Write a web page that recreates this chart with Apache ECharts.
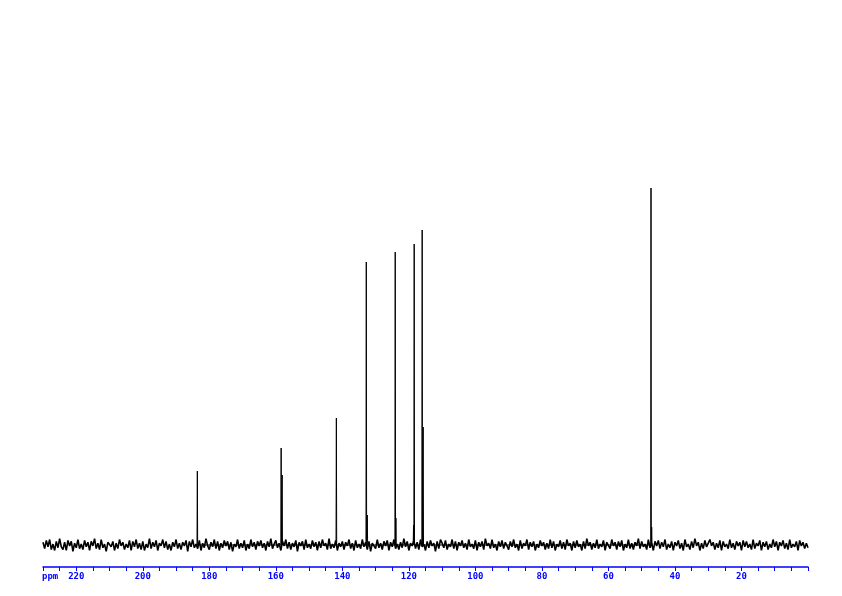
<!DOCTYPE html>
<html><head><meta charset="utf-8">
<script src="https://cdn.jsdelivr.net/npm/echarts@6/dist/echarts.min.js"></script>
<style>html,body{margin:0;padding:0;background:#fff}#c{width:842px;height:596px}</style>
</head><body><div id="c"></div>
<script>
// Peak positions (ppm) and heights (arbitrary intensity units)
const peakPpm    = [183.6, 158.4, 158.1, 141.8, 132.8, 132.5, 124.1, 123.9, 118.4, 118.6, 116.0, 115.7, 47.2, 47.0];
const peakHeight = [14.8,  19.4,  14.0,  25.4,  56.6,  6.0,   58.6,  5.4,   60.2,  4.0,   63.0,  23.6,  71.4, 3.6];
// Baseline noise, sampled every 0.5 ppm from 230 down to 0 (in 1/5.5 intensity units)
const noiseStart = 230, noiseStep = 0.5, noiseScale = 5.5;
const noise = [
3,-4,5,-2,6,-5,1,-6,4,-3,7,-2,-5,3,-6,5,-1,4,-7,2,
-3,6,-4,1,-5,5,-2,3,-6,4,-1,7,-4,2,-5,6,-3,1,-7,3,
5,-2,4,-6,2,-4,6,-1,3,-5,1,-3,5,-6,4,-2,6,-4,2,-5,
4,-6,1,-3,7,-4,3,-2,5,-6,2,-1,6,-3,4,-5,1,-6,3,-2,
6,-4,2,-5,3,-1,5,-7,4,-2,6,-3,1,-4,5,-6,2,-3,7,-1,
-5,3,-2,6,-4,4,-6,2,-3,5,-1,4,-5,3,-7,1,-2,6,-4,2,
-3,5,-6,1,-4,6,-2,3,-5,4,-1,5,-3,2,-6,4,-2,7,-4,1,
5,-3,2,-6,4,-1,6,-4,3,-5,2,-2,5,-7,3,-1,4,-5,6,-3,
1,-4,5,-2,3,-6,4,-3,6,-1,2,-5,7,-4,1,-3,5,-6,2,-2,
4,-5,3,-1,6,-4,2,-6,5,-3,1,-4,6,-2,3,-5,4,-7,2,-1,
-4,6,-3,2,-5,4,-1,5,-6,3,-2,6,-4,1,-5,3,-3,7,-2,4,
-6,2,-1,5,-4,3,-5,6,-2,1,-6,4,-3,5,-1,2,-7,4,-4,6,
2,-3,5,-5,1,-2,6,-4,4,-6,3,-1,5,-3,2,-5,6,-2,1,-4,
5,-6,3,-2,4,-5,7,-1,2,-4,6,-3,1,-6,4,-2,5,-4,3,-1,
-5,4,-2,6,-3,1,-6,5,-4,2,-1,6,-5,3,-2,4,-6,1,-3,5,
-1,3,-5,2,-4,6,-3,4,-6,1,-2,5,-4,3,-5,6,-1,2,-6,4,
-3,5,-2,1,-6,4,-4,7,-1,3,-5,2,-3,6,-4,1,-2,5,-6,3,
2,-4,6,-1,3,-5,4,-2,5,-6,1,-3,6,-4,2,-5,3,-1,7,-4,
4,-2,1,-5,6,-3,2,-6,4,-1,5,-4,3,-2,6,-5,1,-3,4,-6,
3,-1,5,-4,2,-6,6,-2,1,-5,4,-3,7,-1,3,-6,2,-4,5,-2,
-4,6,-1,3,-5,2,-3,5,-6,4,-2,1,-4,6,-3,2,-5,4,-1,3,
-6,5,-2,4,-3,1,-5,6,-4,2,-1,5,-6,3,-2,4,-5,1,-3,6,
-2,4,-6,3,-1,5,-4,2,-5,6,-3,1,-2,4,-6,5,-1,3,-4,2,-3
];
const axisMinPpm = 0, axisMaxPpm = 230, tickStep = 5, labelStep = 20;

// build the data series
const noisePts = noise.map((v, i) => [noiseStart - i * noiseStep, v / noiseScale]);
const peakPts = [];
peakPpm.forEach((p, i) => {
  peakPts.push([p + 0.1, 0]);
  peakPts.push([p, peakHeight[i]]);
  peakPts.push([p - 0.1, 0]);
});
peakPts.sort((a, b) => b[0] - a[0]);

const chart = echarts.init(document.getElementById('c'), null, {renderer: 'canvas'});
chart.setOption({
  animation: false,
  backgroundColor: '#fff',
  grid: {left: 43, right: 34, top: 45, bottom: 29},
  xAxis: {
    type: 'value', min: axisMinPpm, max: axisMaxPpm, interval: tickStep, inverse: true,
    axisLine: {show: true, onZero: false, lineStyle: {color: '#0000ff', width: 1.5}},
    axisTick: {show: true, length: 4, lineStyle: {color: '#0000ff', width: 1}},
    splitLine: {show: false},
    axisLabel: {
      color: '#0000ff', fontFamily: 'DejaVu Sans Mono', fontSize: 9, fontWeight: 'bold', margin: 5,
      formatter: v => (v % labelStep === 0 && v > axisMinPpm && v < axisMaxPpm) ? String(v) : ''
    }
  },
  yAxis: {type: 'value', min: -4.4, max: 100, show: false, splitLine: {show: false}},
  graphic: [{type: 'text', left: 42, top: 572, style: {text: 'ppm', fill: '#0000ff', font: 'bold 9px "DejaVu Sans Mono"'}}],
  series: [{
    type: 'line', data: noisePts, showSymbol: false, symbol: 'none', sampling: null,
    lineStyle: {color: '#000', width: 1.6}, silent: true
  }, {
    type: 'line', data: peakPts, showSymbol: false, symbol: 'none',
    lineStyle: {color: '#000', width: 1}, silent: true
  }]
});
</script></body></html>
